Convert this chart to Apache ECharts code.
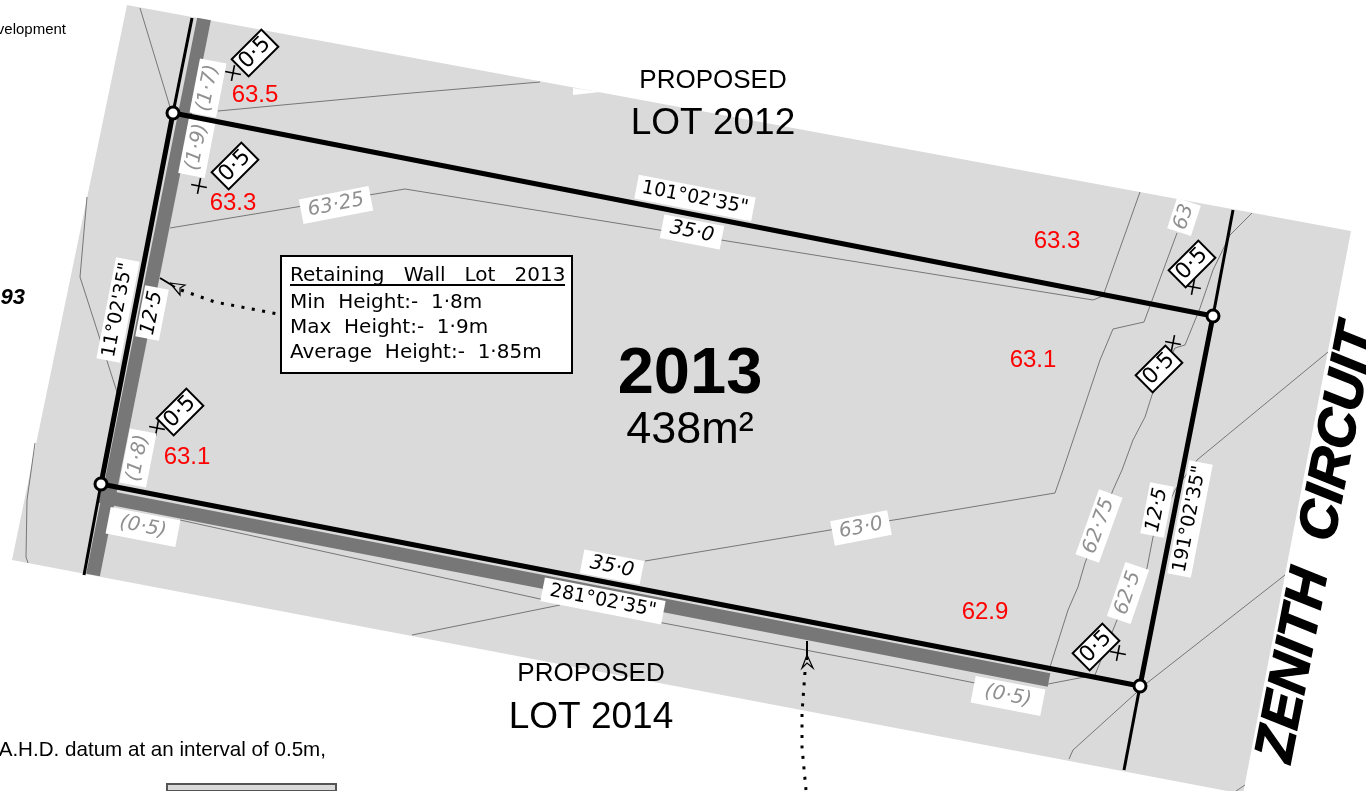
<!DOCTYPE html>
<html>
<head>
<meta charset="utf-8">
<script src="https://cdn.jsdelivr.net/npm/echarts@6/dist/echarts.min.js"></script>
<style>
html,body{margin:0;padding:0;background:#fff;}
#main{width:1366px;height:791px;}
</style>
</head>
<body>
<div id="main"></div>
<script>
// survey sheet units are screen pixels of the sheet, y grows downward
var sheetArea = [[127,5],[1351,231],[1243,794],[12,560]];
var labelScrap = [[573,88],[573,95],[600,92]];
var legendStub = [[167,784],[336,784],[336,791],[167,791]];

var lotBoundary = [[173,113],[1213,316],[1140,686],[101,484],[173,113]];
var easementEnds = [
	[[192,18],[173,113]],
	[[101,484],[84,575]],
	[[1233,210],[1213,316]],
	[[1140,686],[1124,770]]
];
var wallLeft = [[204,19],[93,575]];
var wallBottom = [[100,496],[1049,680]];

var contours = [
	[[140,8],[170,107]],
	[[218,111],[400,94],[540,82]],
	[[170,228],[405,189],[1093,300],[1103,296],[1140,192]],
	[[87,197],[80,277],[117,392]],
	[[35,443],[27,500],[26,557],[28,563]],
	[[412,635],[560,605]],
	[[645,561],[830,530],[900,519],[1055,493],[1063,470],[1100,360],[1113,329],[1144,322],[1177,233]],
	[[1252,213],[1230,235],[1213,270],[1200,308],[1185,345],[1175,348],[1152,395],[1145,417],[1133,440],[1122,470],[1113,490],[1085,563],[1078,587],[1068,610],[1050,667]],
	[[1328,352],[1197,460],[1175,490],[1153,537],[1147,568],[1117,620],[1095,675],[1048,684]],
	[[1285,575],[1147,683],[1115,712],[1073,750],[1069,759]],
	[[180,520],[563,604],[663,623],[900,668],[975,683]],
	[[1245,785],[1236,791]]
];

var leaderDots = [
	[[181,290],[215,302],[278,314]],
	[[805,672],[802,713],[802,747],[806,790]]
];
var leaderStems = [
	[[160,278],[175,287]],
	[[807,641],[807,660]]
];
var leaderHeads = [
	[[170,283],[185,285],[180,288],[180,295],[170,283]],
	[[807,655],[813,668],[807,663],[802,668],[807,655]]
];

var corners = [[173,113],[1213,316],[1140,686],[101,484]];
var spotCrosses = [[233,73],[199,186],[157,428],[1193,287],[1173,343],[1118,653]];

// x, y, text, angle
var offsetTags = [
	[255,53,'0·5',45],[235,166,'0·5',45],[180,412,'0·5',45],
	[1192,264,'0·5',45],[1159,369,'0·5',45],[1096,647,'0·5',45]
];
var spotLevels = [
	[255,95,'63.5'],[233,203,'63.3'],[187,457,'63.1'],
	[1057,241,'63.3'],[1033,360,'63.1'],[985,612,'62.9']
];
var bearings = [
	[695,198,'101°02\'35"',-11],[603,601,'281°02\'35"',-11],
	[118,310,'11°02\'35"',79],[1190,519,'191°02\'35"',79]
];
var lengths = [
	[692,232,'35·0',-11],[612,567,'35·0',-11],
	[152,313,'12·5',79],[1157,510,'12·5',79]
];
var wallHeights = [
	[208,88,'(1·7)',79],[197,147,'(1·9)',79],[138,458,'(1·8)',79],
	[143,527,'(0·5)',-11],[1008,696,'(0·5)',-11]
];
var contourTags = [
	[336,205,'63·25',11],[861,528,'63·0',11],[1184,217,'63',72],
	[1099,526,'62·75',70],[1128,593,'62·5',71]
];

var noteBox = [[281,256],[572,256],[572,373],[281,373],[281,256]];
var noteRule = [[290,285],[565,285]];
var noteHead = [[290,276,'Retaining   Wall   Lot   2013']];
var noteRows = [
	[290,303,'Min  Height:-  1·8m'],
	[290,328,'Max  Height:-  1·9m'],
	[290,353,'Average  Height:-  1·85m']
];

var lotName = [[713,81,'PROPOSED'],[591,674,'PROPOSED']];
var lotNumber = [[713,124,'LOT 2012'],[591,718,'LOT 2014']];
var lotId = [[690,375,'2013']];
var lotArea = [[690,431,'438m²']];
var roadName = [[1318,543,'ZENITH  CIRCUIT',79]];
var sheetScraps = [[66,30,'Development']];
var sheetNotes = [[326,750,'A.H.D. datum at an interval of 0.5m,']];
var sheetNumber = [[25,298,'93']];

var boxLength = {
	'101°02\'35"':119,'281°02\'35"':123,'11°02\'35"':103,'191°02\'35"':115,
	'35·0':61,'12·5':52,'(1·7)':55,'(1·9)':58,'(1·8)':55,'(0·5)':71,
	'63·25':71,'63·0':58,'63':32,'62·75':69,'62·5':57,'0·5':42
};

var CAD = '"DejaVu Sans"';
var SANS = '"Liberation Sans"';
var zNow = 1;

function polySeries(points, fill, border)
{
	return {
		type:'custom', coordinateSystem:'cartesian2d', silent:true, clip:false, z:zNow++,
		data:points,
		encode:{x:0,y:1},
		renderItem:function(params, api){
			if(params.dataIndex > 0) return;
			var pts = points.map(function(p){return api.coord(p);});
			return {type:'polygon', shape:{points:pts}, style:{fill:fill, stroke:border || null, lineWidth:border ? 2 : 0}};
		}
	};
}
function lineSeries(points, width, color, dash, cap)
{
	return {
		type:'line', data:points, symbol:'none', silent:true, clip:false, z:zNow++, animation:false,
		lineStyle:{width:width, color:color, type:dash || 'solid', cap:cap || 'butt', join:'miter'}
	};
}
function textSeries(items, font, color, opt)
{
	opt = opt || {};
	return {
		type:'custom', coordinateSystem:'cartesian2d', silent:true, clip:false, z:zNow++,
		data:items,
		encode:{x:0,y:1},
		renderItem:function(params, api){
			var item = items[params.dataIndex];
			var c = api.coord([item[0], item[1]]);
			var kids = [];
			if(opt.boxH)
			{
				var w = boxLength[item[2]];
				kids.push({type:'rect', shape:{x:-w/2,y:-opt.boxH/2,width:w,height:opt.boxH},
					style:{fill:'#fff', stroke:opt.border ? '#000' : null, lineWidth:opt.border ? 2 : 0}});
			}
			var st = {text:item[2], x:0, y:0, font:font, fill:color,
				align:opt.align || 'center', verticalAlign:'middle'};
			if(opt.heavy)
			{
				st.stroke = color;
				st.lineWidth = opt.heavy;
			}
			kids.push({type:'text', style:st});
			return {type:'group', x:c[0], y:c[1], rotation:(item[3] || 0)*Math.PI/180, children:kids};
		}
	};
}
function crossSeries(points)
{
	return {
		type:'custom', coordinateSystem:'cartesian2d', silent:true, clip:false, z:zNow++,
		data:points,
		encode:{x:0,y:1},
		renderItem:function(params, api){
			var c = api.coord([api.value(0), api.value(1)]);
			var st = {stroke:'#000', lineWidth:1.6};
			return {type:'group', x:c[0], y:c[1], rotation:-11*Math.PI/180, children:[
				{type:'line', shape:{x1:-8,y1:0,x2:8,y2:0}, style:st},
				{type:'line', shape:{x1:0,y1:-8,x2:0,y2:8}, style:st}
			]};
		}
	};
}

var series = [];
series.push(polySeries(sheetArea, '#dadada'));
series.push(polySeries(labelScrap, '#fff'));
series.push(polySeries(legendStub, '#d9d9d9', '#555'));
series.push(lineSeries(wallLeft, 14, '#777'));
series.push(lineSeries(wallBottom, 14, '#777'));
contours.forEach(function(c){ series.push(lineSeries(c, 1, '#777')); });
series.push(crossSeries(spotCrosses));
series.push(textSeries(wallHeights, 'italic 20px '+CAD, '#909090', {boxH:27}));
series.push(textSeries(contourTags, 'italic 20px '+CAD, '#909090', {boxH:25}));
series.push(textSeries(bearings, '19px '+CAD, '#000', {boxH:24}));
series.push(textSeries(lengths, 'italic 20px '+CAD, '#000', {boxH:24}));
easementEnds.forEach(function(c){ series.push(lineSeries(c, 3, '#000')); });
series.push(lineSeries(lotBoundary, 5, '#000'));
series.push(textSeries(offsetTags, '22px '+CAD, '#000', {boxH:24, border:true}));
leaderDots.forEach(function(c){ series.push(lineSeries(c, 3, '#000', [3,7.5])); });
leaderStems.forEach(function(c){ series.push(lineSeries(c, 2, '#000')); });
leaderHeads.forEach(function(c){ series.push(lineSeries(c, 1.2, '#000')); });
series.push(polySeries(noteBox, '#fff', '#000'));
series.push(lineSeries(noteRule, 2, '#000'));
series.push(textSeries(noteHead, '20px '+CAD, '#000', {align:'left'}));
series.push(textSeries(noteRows, '20px '+CAD, '#000', {align:'left'}));
series.push(textSeries(spotLevels, '24px '+SANS, '#ff0000'));
series.push(textSeries(lotName, '26px '+SANS, '#000'));
series.push(textSeries(lotNumber, '37px '+SANS, '#000'));
series.push(textSeries(lotId, 'bold 65px '+SANS, '#000'));
series.push(textSeries(lotArea, '45px '+SANS, '#000'));
series.push(textSeries(roadName, 'italic bold 54px '+SANS, '#000', {heavy:1.5}));
series.push(textSeries(sheetScraps, '15px '+SANS, '#000', {align:'right'}));
series.push(textSeries(sheetNotes, '20.6px '+SANS, '#000', {align:'right'}));
series.push(textSeries(sheetNumber, 'italic bold 22px '+SANS, '#000', {align:'right'}));
series.push({
	type:'scatter', data:corners, symbol:'circle', symbolSize:12, silent:true, z:zNow++,
	itemStyle:{color:'#fff', borderColor:'#000', borderWidth:3, opacity:1}
});

var myChart = echarts.init(document.getElementById('main'));
myChart.setOption({
	animation:false,
	backgroundColor:'#fff',
	grid:{left:0,right:0,top:0,bottom:0},
	xAxis:{type:'value', min:0, max:1366, show:false},
	yAxis:{type:'value', min:0, max:791, inverse:true, show:false},
	series:series
});
</script>
</body>
</html>
